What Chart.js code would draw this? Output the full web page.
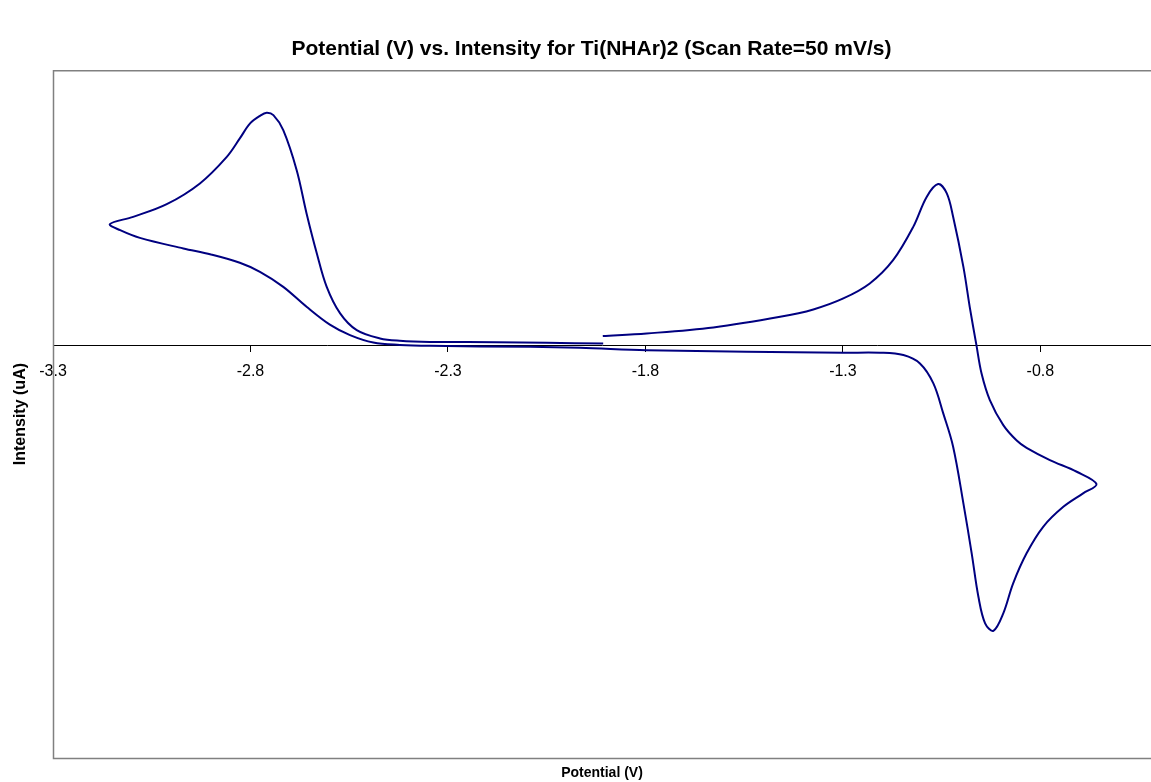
<!DOCTYPE html>
<html><head><meta charset="utf-8">
<script src="https://cdn.jsdelivr.net/npm/chart.js@4/dist/chart.umd.min.js"></script>
<style>html,body{margin:0;padding:0;background:#fff}#wrap{width:1151px;height:782px;position:relative}</style>
</head><body><div id="wrap"><canvas id="c"></canvas></div>
<script>
// Potential (V) in scan order
const potential = [
  -1.908,-1.797,-1.628,-1.459,-1.375,-1.299,-1.232,-1.173,-1.122,-1.088,-1.059,-1.037,-1.021,-0.995,-0.979,-0.962,-0.949,-0.928,-0.894,-0.860,-0.835,-0.776,-0.708,-0.658,
  -0.692,-0.742,-0.793,-0.835,-0.869,-0.894,-0.919,-0.940,-0.957,-0.974,-0.995,-1.021,-1.046,-1.071,-1.105,-1.147,-1.206,-1.299,-1.544,-1.797,-1.966,-2.092,-2.346,-2.422,-2.489,-2.548,-2.599,-2.658,-2.717,-2.776,-2.827,-2.900,-2.970,-3.080,-3.130,-3.156,
  -3.097,-3.012,-2.928,-2.860,-2.827,-2.801,-2.775,-2.759,-2.742,-2.717,-2.683,-2.658,-2.632,-2.607,-2.573,-2.531,-2.472,-2.422,-2.346,-2.177,-2.050,-1.907
];
// Intensity (uA)
const current = [
  0.67,0.86,1.30,2.07,2.61,3.41,4.50,6.19,8.61,10.79,11.72,11.04,9.34,5.70,2.80,0.01,-2.05,-3.98,-5.80,-6.92,-7.45,-8.34,-9.19,-10.09,
  -10.76,-11.74,-13.19,-15.12,-17.30,-19.48,-20.75,-20.21,-18.28,-15.12,-11.49,-7.37,-4.95,-2.77,-1.32,-0.71,-0.54,-0.54,-0.47,-0.35,-0.18,-0.11,-0.04,0.03,0.20,0.74,1.50,2.80,4.25,5.34,6.00,6.60,7.04,7.81,8.37,8.81,
  9.34,10.26,11.77,13.70,15.04,16.13,16.70,16.90,16.73,15.64,12.73,9.59,6.68,4.25,2.32,1.10,0.50,0.33,0.25,0.23,0.18,0.14
];
const xTickValues = [-3.3,-2.8,-2.3,-1.8,-1.3,-0.8];
const xTickLabels = ['-3.3','-2.8','-2.3','-1.8','-1.3','-0.8'];
const chartTitle = 'Potential (V) vs. Intensity for Ti(NHAr)2 (Scan Rate=50 mV/s)';
const xTitle = 'Potential (V)';
const yTitle = 'Intensity (uA)';

const points = potential.map((v, i) => ({x: v, y: current[i]}));

Chart.defaults.font.family = 'Arial, "Liberation Sans", sans-serif';
Chart.defaults.color = '#000';

const frame = {
  id: 'frame',
  afterDraw(chart) {
    const {ctx, chartArea: a} = chart;
    ctx.save();
    ctx.strokeStyle = '#808080';
    ctx.lineWidth = 1.5;
    ctx.beginPath();
    ctx.moveTo(a.right + 1, a.top + 0.5);
    ctx.lineTo(a.left + 0.5, a.top + 0.5);
    ctx.lineTo(a.left + 0.5, a.bottom + 0.5);
    ctx.lineTo(a.right + 1, a.bottom + 0.5);
    ctx.stroke();
    ctx.restore();
  }
};

new Chart(document.getElementById('c'), {
  type: 'scatter',
  data: {
    datasets: [{
      data: points,
      showLine: true,
      borderColor: '#000080',
      borderWidth: 2,
      pointRadius: 0,
      tension: 0.35,
      fill: false
    }]
  },
  options: {
    responsive: true,
    maintainAspectRatio: false,
    animation: false,
    layout: {padding: {left: 0, top: 0, bottom: 0, right: -32}},
    plugins: {
      legend: {display: false},
      tooltip: {enabled: false},
      title: {
        display: true,
        text: chartTitle,
        font: {size: 21, weight: 'bold'},
        padding: {top: 37, bottom: 8}
      }
    },
    scales: {
      x: {
        type: 'linear',
        position: {y: 0},
        min: -3.3,
        max: -0.52,
        afterBuildTicks: s => { s.ticks = xTickValues.map(v => ({value: v})); },
        ticks: {
          autoSkip: false, maxRotation: 0, padding: 11,
          font: {size: 16},
          callback: (v, i) => xTickLabels[i]
        },
        grid: {display: true, drawOnChartArea: false, drawTicks: true, tickLength: 6, color: '#000', lineWidth: 1},
        border: {display: true, color: '#000', width: 1}
      },
      x2: {
        type: 'linear',
        position: 'bottom',
        min: -3.3,
        max: -0.52,
        ticks: {display: false},
        grid: {display: false},
        border: {display: false},
        title: {display: true, text: xTitle, font: {size: 14, weight: 'bold'}, padding: {top: 0, bottom: 0}},
        afterFit: s => { s.height = 24; }
      },
      y: {
        type: 'linear',
        position: 'left',
        min: -30,
        max: 20,
        ticks: {display: false},
        grid: {display: false},
        border: {display: false},
        title: {display: true, text: yTitle, font: {size: 16, weight: 'bold'}, padding: {top: 11, bottom: 0}},
        afterFit: s => { s.width = 53; }
      }
    }
  },
  plugins: [frame]
});
</script>
</body></html>
